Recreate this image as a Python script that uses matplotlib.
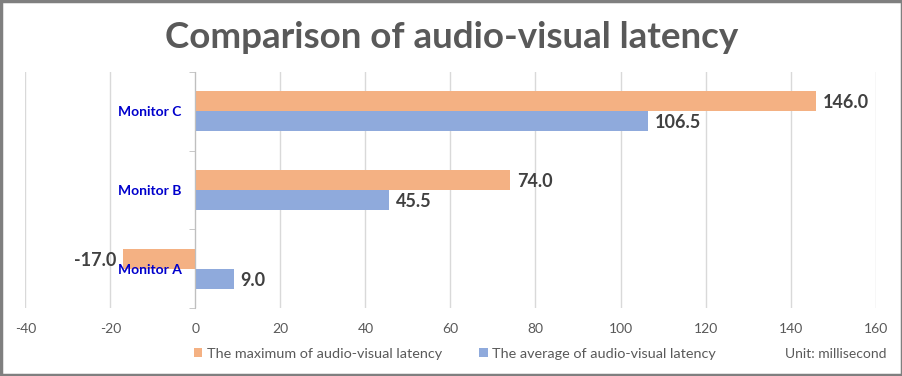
import matplotlib
matplotlib.use("Agg")
import matplotlib.pyplot as plt
from matplotlib.patches import Patch, Rectangle
import numpy as np

categories = ["Monitor A", "Monitor B", "Monitor C"]
max_latency = [-17.0, 74.0, 146.0]
avg_latency = [9.0, 45.5, 106.5]
series_names = ["The maximum of audio-visual latency", "The average of audio-visual latency"]
x_ticks = [-40, -20, 0, 20, 40, 60, 80, 100, 120, 140, 160]
title = "Comparison of audio-visual latency"
unit_text = "Unit: millisecond"

ORANGE = "#F4B183"
BLUE = "#8FAADC"
GRAY_TXT = "#595959"
FONT = "Lato"

plt.rcParams['font.family'] = [FONT, 'DejaVu Sans']

fig = plt.figure(figsize=(9.03, 3.76), dpi=100)
ax = fig.add_axes([25.3/903, 1-308/376, (875.6-25.3)/903, (308-72)/376])

y = np.arange(len(categories))
h = 0.254
ax.barh(y + h/2, max_latency, height=h, color=ORANGE, zorder=3)
ax.barh(y - h/2, avg_latency, height=h, color=BLUE, zorder=3)

for yi, v in zip(y + h/2, max_latency):
    ax.annotate(f"{v:.1f}", (v, yi), xytext=(5 if v >= 0 else -5, -1), textcoords="offset points",
                ha="left" if v >= 0 else "right", va="center", fontsize=13, fontweight="bold",
                color="#404040", zorder=5)
for yi, v in zip(y - h/2, avg_latency):
    ax.annotate(f"{v:.1f}", (v, yi), xytext=(5 if v >= 0 else -5, -1), textcoords="offset points",
                ha="left" if v >= 0 else "right", va="center", fontsize=13, fontweight="bold",
                color="#404040", zorder=5)

ax.set_xlim(x_ticks[0], x_ticks[-1])
ax.set_ylim(-0.5, len(categories) - 0.5)
ax.set_xticks(x_ticks)
ax.set_xticklabels([str(t) for t in x_ticks], color=GRAY_TXT, fontsize=10)
ax.tick_params(axis="x", length=0, pad=11)
ax.grid(axis="x", color="#D9D9D9", linewidth=1, zorder=0)

for s in ["top", "right", "bottom"]:
    ax.spines[s].set_visible(False)
ax.spines["left"].set_position(("data", 0))
ax.spines["left"].set_color("#BFBFBF")
ax.spines["left"].set_zorder(4)
ax.set_yticks(y)
ax.set_yticklabels(categories, color="#0000CC", fontsize=10, fontweight="bold")
ax.tick_params(axis="y", length=0, pad=10)
ax.set_yticks(np.arange(-0.5, len(categories), 1.0), minor=True)
ax.tick_params(axis="y", which="minor", length=4, color="#BFBFBF")
ax.yaxis.set_zorder(6)

fig.text(0.5, 1-37/376, title, ha="center", va="center", fontsize=26.5, fontweight="bold", color=GRAY_TXT)

handles = [Patch(facecolor=ORANGE, label=series_names[0]), Patch(facecolor=BLUE, label=series_names[1])]
leg = fig.legend(handles=handles, loc="center", bbox_to_anchor=(455/903, 1-354/376), ncol=2, frameon=False,
                 fontsize=10.4, handlelength=0.6, handleheight=0.6, handletextpad=0.3, columnspacing=2.6)
for t in leg.get_texts():
    t.set_color(GRAY_TXT)
fig.text(887/903, 1-354/376, unit_text, ha="right", va="center", fontsize=10, color=GRAY_TXT)

fig.patches.append(Rectangle((0.0015, 0.003), 0.997, 0.994, transform=fig.transFigure, fill=False,
                             edgecolor="#7F7F7F", linewidth=2.5))

fig.savefig("out.png", dpi=100)
